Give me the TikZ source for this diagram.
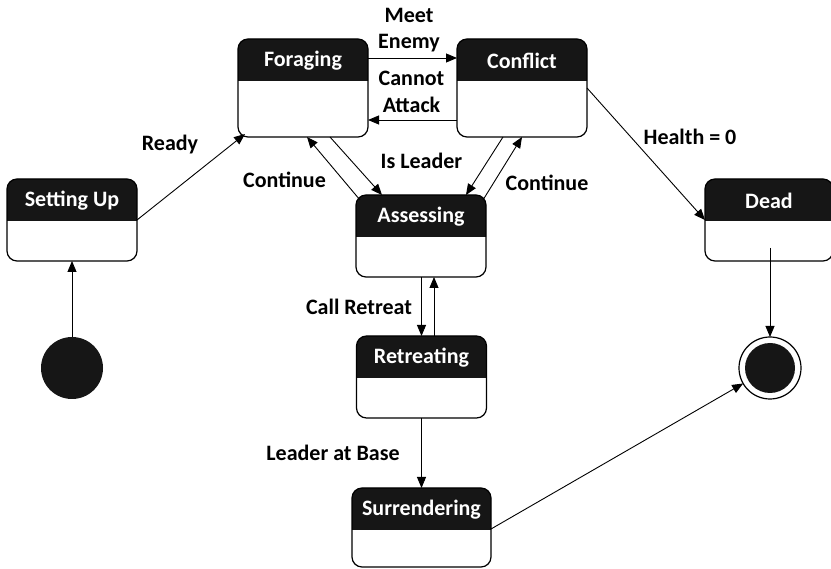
\documentclass[tikz,border=0pt]{standalone}
\usepackage{fontspec}
\setmainfont{Carlito}
\usetikzlibrary{arrows.meta}
\definecolor{hdr}{RGB}{22,22,22}
\tikzset{
  statebody/.style={rectangle, inner sep=0pt, outer sep=0pt},
  hdrtext/.style={text=white, font=\fontsize{22}{26}\selectfont\bfseries, inner sep=0pt},
  lbl/.style={font=\fontsize{22}{26.5}\selectfont\bfseries, align=center, inner sep=0pt},
  arr/.style={-{Triangle[length=11pt,width=9pt]}, line width=0.9pt},
  border/.style={line width=1.2pt, rounded corners=10pt},
}
\newcommand\mystate[6]{%
  \node[statebody, minimum width=#4pt, minimum height=#5pt, anchor=north] (#1) at (#2,#3) {};
  \fill[hdr] ([yshift=-42pt]#1.north west) [rounded corners=10pt] -- (#1.north west) -- (#1.north east) [sharp corners] -- ([yshift=-42pt]#1.north east) -- cycle;
  \draw[border] (#1.north west) rectangle (#1.south east);
  \node[hdrtext] (#1-t) at ([yshift=-22pt]#1.north) {#6};
}
\begin{document}
\begin{tikzpicture}[x=1pt,y=-1pt]
\useasboundingbox (0,0) rectangle (831,569);
\mystate{setup}{72}{179}{130}{82}{Setting Up}
\mystate{forage}{303}{39}{130}{98}{Foraging}
\mystate{conflict}{522}{39}{130}{98}{Conflict}
\mystate{assess}{421}{195}{130}{82}{Assessing}
\mystate{retreat}{421.5}{336}{130}{82}{Retreating}
\mystate{surrender}{421.5}{488}{139}{79}{Surrendering}
\mystate{dead}{769}{179}{128}{82}{Dead}
\node[circle, fill=hdr, minimum size=62pt, inner sep=0pt, outer sep=0pt] (init) at (72,368) {};
\node[circle, draw, line width=1.2pt, minimum size=62pt, inner sep=0pt, outer sep=0pt] (final) at (770,368) {};
\node[circle, fill=hdr, minimum size=50pt, inner sep=0pt] (finalin) at (final.center) {};
% connectors
\draw[arr] (init) -- (setup.south);
\draw[arr] ([yshift=-41pt]setup.north east) -- ([xshift=7pt,yshift=3pt]forage.south west);
\draw[arr] ([yshift=-19pt]forage.north east) -- ([yshift=-19pt]conflict.north west);
\draw[arr] ([yshift=-81pt]conflict.north west) -- ([yshift=-81pt]forage.north east);
\draw[arr] ([xshift=27pt]forage.south) -- ([xshift=-39pt]assess.north);
\draw[arr] ([xshift=4pt,yshift=-5pt]assess.north west) -- ([xshift=4pt]forage.south);
\draw[arr] ([xshift=-19pt]conflict.south) -- ([xshift=45pt]assess.north);
\draw[arr] ([xshift=-3pt,yshift=-5pt]assess.north east) -- (conflict.south);
\draw[arr] ([yshift=-49pt]conflict.north east) -- ([yshift=-41pt]dead.north west);
\draw[arr] ([yshift=13pt]dead.south -| final) -- (final.north);
\draw[arr] ([xshift=0.5pt]assess.south) -- (retreat.north);
\draw[arr] ([xshift=12.5pt]retreat.north) -- ([xshift=13pt]assess.south);
\draw[arr] (retreat.south) -- (surrender.north);
\draw[arr] ([yshift=-41pt]surrender.north east) -- (final);
% labels
\node[lbl] (l-ready) at (170,145) {Ready};
\node[lbl] (l-meet) at (409,30) {Meet\\Enemy};
\node[lbl] (l-cannot) at (411.5,92) {Cannot\\Attack};
\node[lbl] (l-isl) at (421.5,161) {Is Leader};
\node[lbl] (l-cont1) at (284.5,180) {Continue};
\node[lbl] (l-cont2) at (547,183) {Continue};
\node[lbl] (l-health) at (690,137) {Health = 0};
\node[lbl] (l-call) at (359,307) {Call Retreat};
\node[lbl] (l-base) at (333,453) {Leader at Base};
\end{tikzpicture}
\end{document}
